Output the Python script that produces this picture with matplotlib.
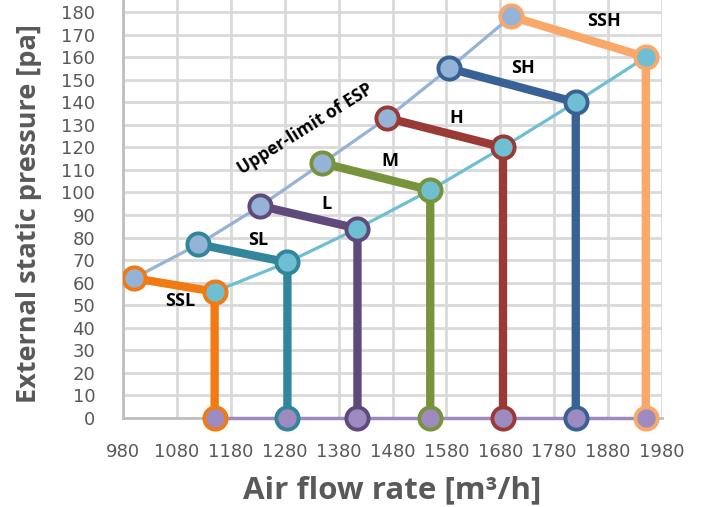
import matplotlib.pyplot as plt

# fan speed steps and their operating points (air flow m3/h, ESP pa)
speeds = ["SSL", "SL", "L", "M", "H", "SH", "SSH"]
upper_flow = [1000, 1120, 1235, 1350, 1470, 1585, 1700]
upper_esp = [62, 77, 94, 113, 133, 155, 178]
lower_flow = [1150, 1285, 1415, 1550, 1685, 1820, 1950]
lower_esp = [56, 69, 84, 101, 120, 140, 160]

x_ticks = list(range(980, 1981, 100))
y_ticks = list(range(0, 181, 10))

colors = ["#F27A12", "#31869B", "#604A7B", "#77933C", "#9A3A37", "#386195", "#F9A86A"]
upper_col = "#95B3D7"
lower_col = "#6EBFD2"
base_col = "#9D8BC0"
text_gray = "#595959"

plt.rcParams["font.family"] = ["Open Sans", "DejaVu Sans"]

fig = plt.figure(figsize=(7.05, 5.07), dpi=100)
ax = fig.add_axes([0.1745, 0.1755, 0.7645, 0.8245])

ms = 16
mew = 2.8

# vertical/horizontal series lines
for i, c in enumerate(colors):
    ax.plot([upper_flow[i], lower_flow[i], lower_flow[i]],
            [upper_esp[i], lower_esp[i], 0],
            color=c, lw=6, solid_capstyle="butt", zorder=3)

# upper and lower ESP lines, base line
ax.plot(upper_flow, upper_esp, color=upper_col, lw=2.3, zorder=4)
ax.plot(lower_flow, lower_esp, color=lower_col, lw=2.3, zorder=4)
ax.plot([lower_flow[0], lower_flow[-1]], [0, 0], color=base_col, lw=2.5, zorder=4, clip_on=False)

# markers
for i, c in enumerate(colors):
    ax.plot(upper_flow[i], upper_esp[i], "o", ms=ms, mfc=upper_col, mec=c, mew=mew, zorder=5)
    ax.plot(lower_flow[i], lower_esp[i], "o", ms=ms, mfc=lower_col, mec=c, mew=mew, zorder=5)
    ax.plot(lower_flow[i], 0, "o", ms=ms, mfc=base_col, mec=c, mew=mew, zorder=5, clip_on=False)

# labels for each speed
label_pos = [(1086, 52), (1230, 79), (1358, 95), (1475, 114), (1598, 133), (1722, 155), (1872, 176)]
for name, (lx, ly) in zip(speeds, label_pos):
    ax.text(lx, ly, name, fontsize=13, fontweight="bold", ha="center", va="center", zorder=6)

ax.text(1318, 128, "Upper-limit of ESP", fontsize=12.5, fontweight="bold",
        rotation=32, ha="center", va="center", zorder=6)

ax.set_xlim(980, 1980)
ax.set_ylim(0, 185.3)
ax.set_xticks(x_ticks)
ax.set_yticks(y_ticks)
ax.grid(True, color="#D9D9D9", lw=2, zorder=0)
ax.set_axisbelow(True)
for s in ["top", "right"]:
    ax.spines[s].set_visible(False)
for s in ["left", "bottom"]:
    ax.spines[s].set_color("#BFBFBF")
    ax.spines[s].set_linewidth(2)
ax.tick_params(length=0, labelsize=13, labelcolor=text_gray, labelfontfamily="DejaVu Sans")
ax.tick_params(axis="y", pad=20)
ax.tick_params(axis="x", pad=18)

ax.set_xlabel("Air flow rate [m³/h]", fontsize=22.5, fontweight="bold", color=text_gray, labelpad=10)
ax.set_ylabel("External static pressure [pa]", fontsize=19.5, fontweight="bold", color=text_gray)
ax.yaxis.set_label_coords(-0.15, 0.49)

fig.savefig("out.png", dpi=100)
